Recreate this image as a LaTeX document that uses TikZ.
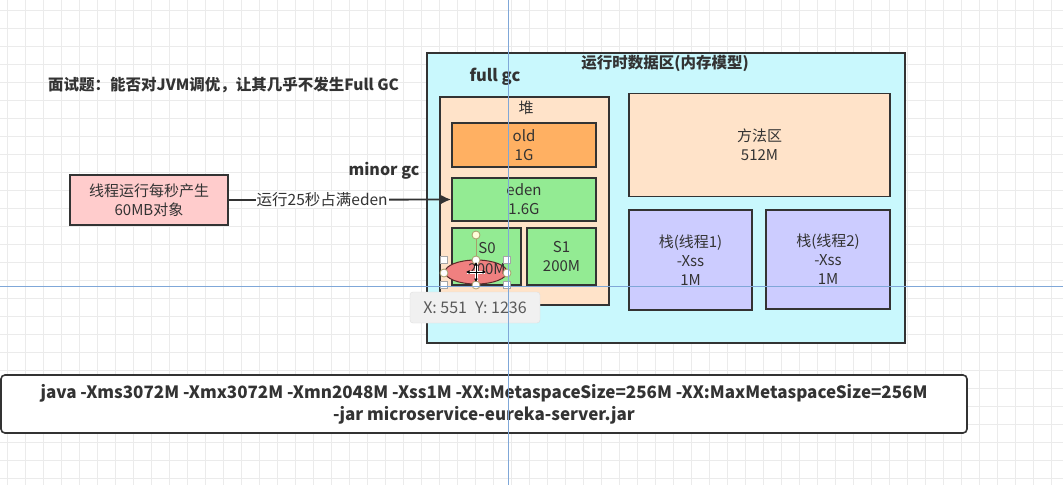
\documentclass[tikz,border=0pt]{standalone}
\usepackage{fontspec}
\setmainfont{Noto Sans CJK SC}
\usepackage{xcolor}
\usetikzlibrary{shapes.geometric,arrows.meta,positioning,calc}
\definecolor{jvmInk}{HTML}{333333}
\definecolor{jvmGrid}{HTML}{EBEBEB}
\definecolor{jvmCyan}{HTML}{C9F8FD}
\definecolor{jvmPeach}{HTML}{FFE3C9}
\definecolor{jvmOrange}{HTML}{FFB062}
\definecolor{jvmGreen}{HTML}{93EB93}
\definecolor{jvmLilac}{HTML}{CCCCFF}
\definecolor{jvmPink}{HTML}{FFCCCC}
\definecolor{jvmRed}{HTML}{F08080}
\definecolor{jvmGuide}{HTML}{7FA7D8}
\definecolor{jvmTip}{HTML}{F0F0F0}
\definecolor{jvmHandle}{HTML}{A89F6A}

\tikzset{
  area/.style={draw=jvmInk,line width=1.6pt,inner sep=0pt,align=center,
    text=jvmInk,font=\fontsize{15}{19}\selectfont},
  tag/.style={text=jvmInk,font=\bfseries\fontsize{15.5}{18}\selectfont,inner sep=0pt},
  handle/.style={draw=gray!70,fill=white,line width=0.6pt,minimum size=7pt,inner sep=0pt},
  knob/.style={circle,draw=jvmHandle,fill=white,line width=0.8pt,minimum size=8pt,inner sep=0pt}
}

\begin{document}
\begin{tikzpicture}[x=1pt,y=-1pt]
  \useasboundingbox (0,0) rectangle (1063,485);
  \fill[white] (0,0) rectangle (1063,485);
  % editor grid
  \foreach \gx in {7,25,...,1063} \draw[jvmGrid,line width=0.6pt] (\gx,0) -- (\gx,485);
  \foreach \gy in {10,28,...,485} \draw[jvmGrid,line width=0.6pt] (0,\gy) -- (1063,\gy);

  \node[tag,anchor=west] (question) at (48,85) {面试题：能否对JVM调优，让其几乎不发生Full GC};

  % runtime data area
  \node[area,fill=jvmCyan,minimum width=478pt,minimum height=290pt] (runtime) at (666,198) {};
  \node[tag] (runtimeTitle) at (665,63) {运行时数据区(内存模型)};
  \node[tag,font=\bfseries\fontsize{16.5}{18}\selectfont] (fullGc) at (495,77) {full gc};

  \node[area,fill=jvmPeach,minimum width=169pt,minimum height=208pt] (heap) at (524.5,201) {};
  \node[text=jvmInk,font=\fontsize{15}{17}\selectfont] (heapTitle) at (526,108) {堆};
  \node[area,fill=jvmOrange,minimum width=144pt,minimum height=44pt] (oldGen) at (524,145) {old\\1G};
  \node[area,fill=jvmGreen,minimum width=144pt,minimum height=43pt] (edenGen) at (524,199.5) {eden\\1.6G};
  \node[area,fill=jvmGreen,minimum width=69pt,minimum height=57pt] (survivorZero) at (486.5,256.5) {};
  \node[area,fill=jvmGreen,minimum width=69pt,minimum height=57pt] (survivorOne) at (561.5,256.5) {S1\\200M};

  \node[area,fill=jvmPeach,minimum width=261pt,minimum height=103pt] (methodArea) at (759.5,145) {方法区\\512M};
  \node[area,fill=jvmLilac,minimum width=123pt,minimum height=100pt] (stackOne) at (690.5,260) {栈(线程1)\\-Xss\\1M};
  \node[area,fill=jvmLilac,minimum width=124pt,minimum height=99pt] (stackTwo) at (828,259.5) {栈(线程2)\\-Xss\\1M};

  % thread producing objects
  \node[area,fill=jvmPink,minimum width=158pt,minimum height=50pt] (threadBox) at (149,200) {线程运行每秒产生\\60MB对象};
  \node[tag,font=\bfseries\fontsize{16}{18}\selectfont] (minorGc) at (384,171) {minor gc};
  \draw[jvmInk,line width=1.8pt,-{Latex[length=10pt,width=9pt]}] (threadBox.east) --
    node[pos=0.42,fill=white,inner sep=1pt,text=jvmInk,font=\fontsize{15.5}{17}\selectfont] (edenLabel) {运行25秒占满eden}
    (edenGen.west);

  % selected ellipse over S0
  \node[ellipse,draw=jvmInk!80!red,fill=jvmRed,line width=1pt,minimum width=62pt,minimum height=24pt,inner sep=0pt] (marker) at (476,272) {};
  \node[text=jvmInk,font=\fontsize{15}{21}\selectfont,align=center] (survivorZeroText) at (487,258) {S0\\200M};
  \node[handle] (hNW) at (444,260) {};
  \node[handle] (hNE) at (507,260) {};
  \node[handle] (hSW) at (444,285) {};
  \node[handle] (hSE) at (507,285) {};
  \node[knob] (kW) at (444,273) {};
  \node[knob] (kE) at (507,273) {};
  \node[knob] (kN) at (476,260) {};
  \node[knob] (kS) at (476,285) {};
  \node[knob,fill=yellow!15] (kRot) at (476,235) {};
  \draw[jvmHandle,line width=0.8pt] (kRot) -- (kN);
  % move cursor
  \draw[white,line width=3pt] (467,272) -- (485,272) (476,263) -- (476,281);
  \draw[black,line width=0.9pt,{Latex[length=3.5pt,width=4pt]}-{Latex[length=3.5pt,width=4pt]}] (466,272) -- (486,272);
  \draw[black,line width=0.9pt,{Latex[length=3.5pt,width=4pt]}-{Latex[length=3.5pt,width=4pt]}] (476,262) -- (476,282);

  % position tooltip
  \node[draw=gray!25,fill=jvmTip,rounded corners=3pt,minimum width=130pt,minimum height=31pt,
        text=black!65,font=\fontsize{16}{18}\selectfont] (tooltip) at (475,307.5) {X: 551\enspace Y: 1236};

  % jvm command line
  \node[area,fill=white,rounded corners=4pt,minimum width=966pt,minimum height=58pt,
        font=\bfseries\fontsize{17}{22}\selectfont] (cmdBox) at (484,404)
    {java -Xms3072M -Xmx3072M -Xmn2048M -Xss1M -XX:MetaspaceSize=256M -XX:MaxMetaspaceSize=256M\\-jar microservice-eureka-server.jar};

  % alignment guides
  \draw[jvmGuide,line width=0.8pt] (508,0) -- (508,485);
  \draw[jvmGuide,line width=0.8pt] (0,286) -- (1063,286);
\end{tikzpicture}
\end{document}
